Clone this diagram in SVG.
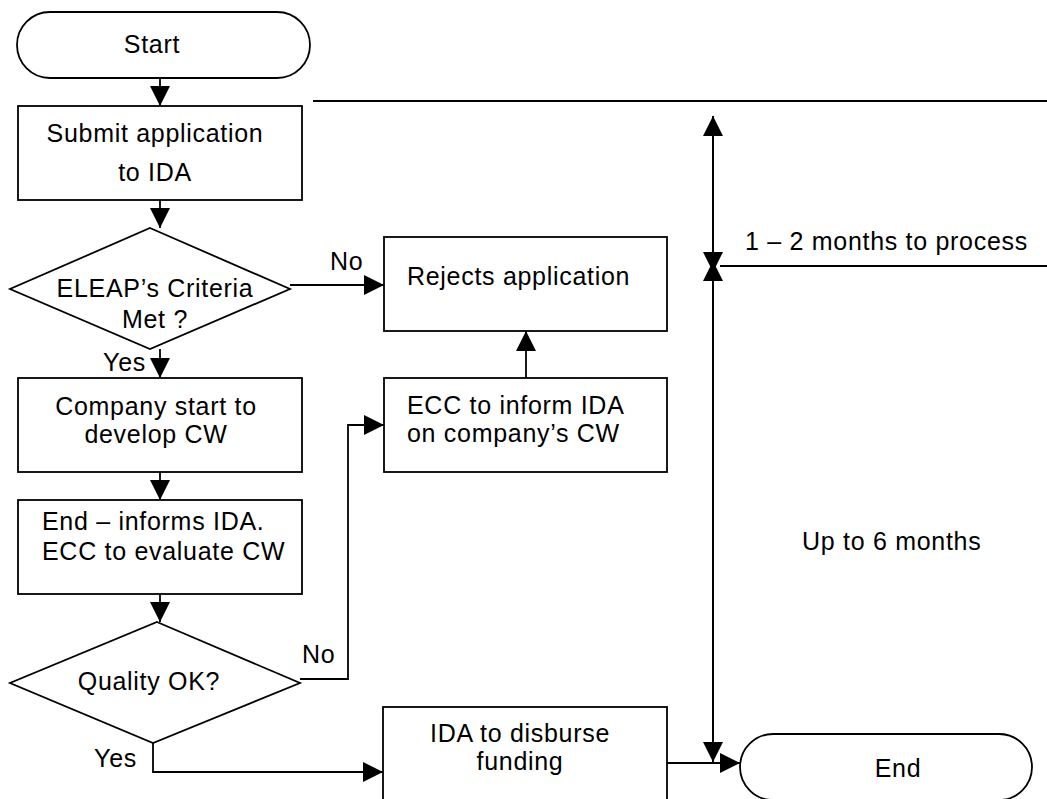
<svg xmlns="http://www.w3.org/2000/svg" width="1047" height="799" viewBox="0 0 1047 799">
<defs>
<style>
.s{fill:#fff;stroke:#000;stroke-width:1.8}
.c{fill:none;stroke:#000;stroke-width:1.8}
text{font-family:"Liberation Sans",Arial,sans-serif;font-size:25px;letter-spacing:0.7px;fill:#000}
.m{text-anchor:middle}
</style>
<marker id="ah" markerUnits="userSpaceOnUse" markerWidth="20" markerHeight="20" refX="20" refY="10" orient="auto" viewBox="0 0 20 20">
<path d="M0,0 L20,10 L0,20 z" fill="#000"/>
</marker>
</defs>
<rect width="1047" height="799" fill="#fff"/>
<g id="connectors">
<line class="c" x1="160" y1="78" x2="160" y2="106" marker-end="url(#ah)"/>
<line class="c" x1="160" y1="200" x2="160" y2="228" marker-end="url(#ah)"/>
<line class="c" x1="160" y1="349" x2="160" y2="378" marker-end="url(#ah)"/>
<line class="c" x1="290" y1="285" x2="384" y2="285" marker-end="url(#ah)"/>
<line class="c" x1="160" y1="472" x2="160" y2="500" marker-end="url(#ah)"/>
<line class="c" x1="160" y1="594" x2="160" y2="622" marker-end="url(#ah)"/>
<line class="c" x1="526" y1="378" x2="526" y2="331" marker-end="url(#ah)"/>
<polyline class="c" points="300,679 348,679 348,425 384,425" marker-end="url(#ah)"/>
<polyline class="c" points="153,743 153,772 383,772" marker-end="url(#ah)"/>
<line class="c" x1="667" y1="763" x2="740" y2="763" marker-end="url(#ah)"/>
<line class="c" x1="313" y1="101" x2="1047" y2="101"/>
<line class="c" x1="720" y1="266" x2="1047" y2="266"/>
<line class="c" x1="713" y1="272" x2="713" y2="116" marker-end="url(#ah)"/>
<line class="c" x1="713" y1="116" x2="713" y2="272" marker-end="url(#ah)"/>
<line class="c" x1="713" y1="762" x2="713" y2="261" marker-end="url(#ah)"/>
<line class="c" x1="713" y1="261" x2="713" y2="762" marker-end="url(#ah)"/>
<text x="330" y="270">No</text>
<text x="146" y="371" text-anchor="end">Yes</text>
<text x="302" y="663">No</text>
<text x="137" y="767" text-anchor="end">Yes</text>
<text x="745" y="250">1 – 2 months to process</text>
<text x="802" y="550">Up to 6 months</text>
</g>
<g id="start">
<rect class="s" x="17" y="12" width="293" height="66" rx="33" ry="33"/>
<text class="m" x="152" y="53">Start</text>
</g>
<g id="submit">
<rect class="s" x="18" y="106" width="284" height="94"/>
<text class="m" x="155" y="142">Submit application</text>
<text class="m" x="155" y="181">to IDA</text>
</g>
<g id="criteria">
<polygon class="s" points="150,228 290,289 150,349 10,289"/>
<text class="m" x="155" y="297">ELEAP’s Criteria</text>
<text class="m" x="155" y="328">Met ?</text>
</g>
<g id="reject">
<rect class="s" x="384" y="237" width="283" height="94"/>
<text x="407" y="285">Rejects application</text>
</g>
<g id="develop">
<rect class="s" x="18" y="378" width="284" height="94"/>
<text class="m" x="156" y="415">Company start to</text>
<text class="m" x="156" y="443">develop CW</text>
</g>
<g id="inform">
<rect class="s" x="384" y="378" width="283" height="94"/>
<text x="407" y="414">ECC to inform IDA</text>
<text x="407" y="442">on company’s CW</text>
</g>
<g id="evaluate">
<rect class="s" x="18" y="500" width="284" height="94"/>
<text x="42" y="530">End – informs IDA.</text>
<text x="42" y="560">ECC to evaluate CW</text>
</g>
<g id="quality">
<polygon class="s" points="157,622 300,683 153,743 10,683"/>
<text class="m" x="149" y="690">Quality OK?</text>
</g>
<g id="disburse">
<rect class="s" x="383" y="707" width="284" height="100"/>
<text class="m" x="520" y="742">IDA to disburse</text>
<text class="m" x="520" y="770">funding</text>
</g>
<g id="end">
<rect class="s" x="740" y="734" width="292" height="66" rx="33" ry="33"/>
<text class="m" x="898" y="777">End</text>
</g>
</svg>
